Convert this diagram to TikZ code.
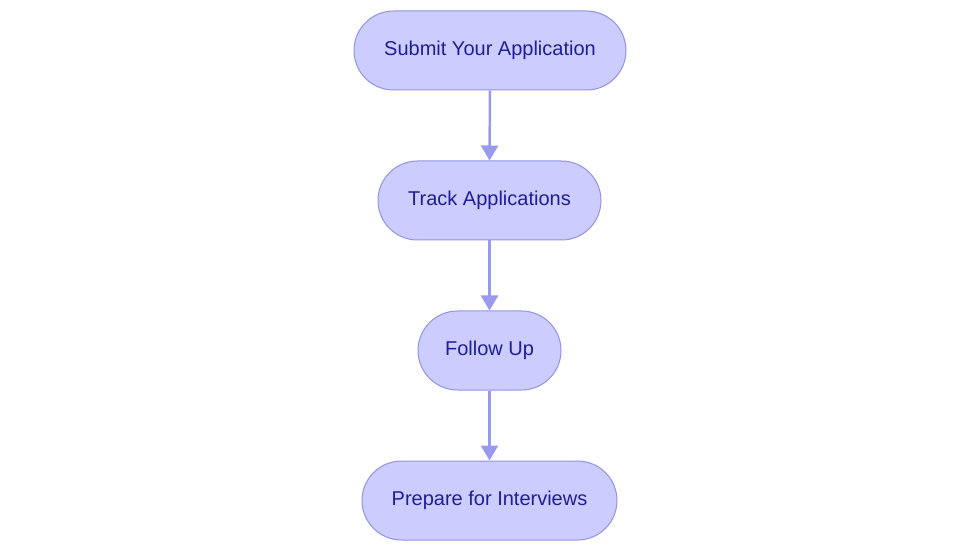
\documentclass[tikz,border=0pt]{standalone}
\usepackage{fontspec}
\setmainfont{Liberation Sans}
\usetikzlibrary{arrows.meta}
\definecolor{nodefill}{HTML}{CCCCFF}
\definecolor{nodeline}{HTML}{9393E6}
\definecolor{nodetext}{HTML}{1E1E96}
\definecolor{arrowc}{HTML}{9999EE}
\begin{document}
\begin{tikzpicture}[x=1pt,y=-1pt,
  stepbox/.style={draw=nodeline, fill=nodefill, line width=1pt, rounded corners=39.5pt,
    minimum height=79pt, inner sep=0pt, text=nodetext, font=\fontsize{20}{24}\selectfont},
  flow/.style={draw=arrowc, line width=2.5pt, -{Triangle[length=15pt,width=17pt]}}]
\useasboundingbox (0,0) rectangle (980,553);
\node[stepbox, minimum width=272pt] (a) at (490,50.5) {Submit Your Application};
\node[stepbox, minimum width=223pt] (b) at (489.5,200.5) {Track Applications};
\node[stepbox, minimum width=143pt] (c) at (489.5,350.5) {Follow Up};
\node[stepbox, minimum width=255pt] (d) at (489.5,500.5) {Prepare for Interviews};
\draw[flow] (a.south) -- (b.north);
\draw[flow] (b.south) -- (c.north);
\draw[flow] (c.south) -- (d.north);
\end{tikzpicture}
\end{document}
